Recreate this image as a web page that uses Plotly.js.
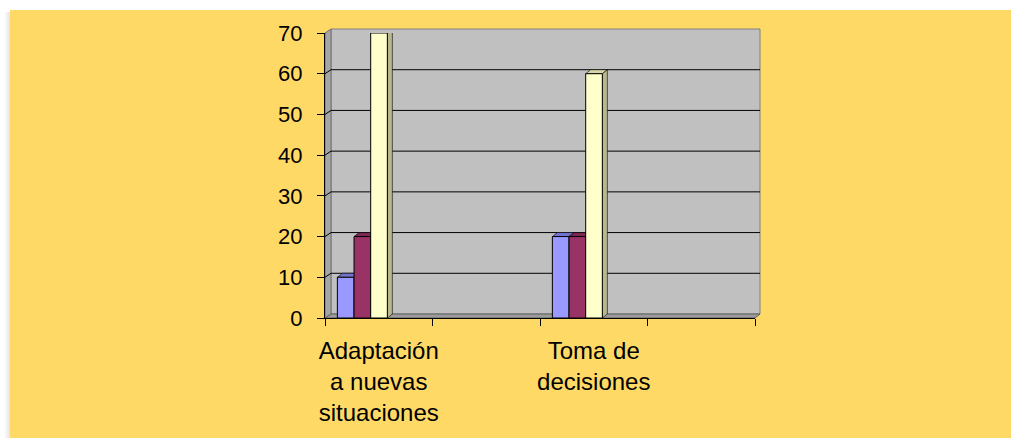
<!DOCTYPE html>
<html>
<head>
<meta charset="utf-8">
<script src="https://cdn.plot.ly/plotly-3.0.1.min.js"></script>
<style>
html,body{margin:0;padding:0;background:#ffffff;width:1011px;height:445px;overflow:hidden;}
#chart{position:absolute;left:10px;top:10px;width:1001px;height:428px;}
#shadow{position:absolute;left:4px;top:12px;width:6px;height:426px;background:linear-gradient(to right,#ffffff,#e4e4e4);}
</style>
</head>
<body>
<div id="shadow"></div>
<div id="chart"></div>
<script>
// ---- data ----
const categories = ['Adaptación<br>a nuevas<br>situaciones', ' ', 'Toma de<br>decisiones', '  '];
const serie1 = [10, null, 20, null];
const serie2 = [20, null, 20, null];
const serie3 = [70, null, 60, null];
const yTicks = [0, 10, 20, 30, 40, 50, 60, 70];

// ---- styling ----
const seriesList = [
  {name: 'Serie 1', y: serie1, color: '#9999FF', top: '#7373CC', side: '#6666B3', offset: -0.385},
  {name: 'Serie 2', y: serie2, color: '#993366', top: '#7A2952', side: '#66223F', offset: -0.23},
  {name: 'Serie 3', y: serie3, color: '#FFFFCC', top: '#D6D6A8', side: '#B8B890', offset: -0.075}
];
const barW = 0.155;

const W = 1001, H = 428;
const mL = 315, mR = 256, mT = 23, mB = 120;
const plotW = W - mL - mR;       // 430
const plotH = H - mT - mB;       // 285
const yMax = 70;
const pxX = plotW / categories.length;
const pxY = plotH / yMax;
const dX = 6, dY = 4;

const traces = seriesList.map(s => ({
  type: 'bar', name: s.name, x: categories, y: s.y,
  offset: s.offset, width: barW,
  marker: {color: s.color, line: {color: '#000000', width: 1}},
  hoverinfo: 'y'
}));

const shapes = [];
// back wall
shapes.push({type: 'path', xref: 'paper', yref: 'paper', xsizemode: 'pixel', ysizemode: 'pixel',
  xanchor: 0, yanchor: 0, layer: 'below',
  path: `M${dX},${dY} L${dX},${plotH + dY} L${plotW + 5},${plotH + dY} L${plotW + 5},${dY} Z`,
  fillcolor: '#C0C0C0', line: {color: '#808080', width: 1}});
// side wall
shapes.push({type: 'path', xref: 'paper', yref: 'paper', xsizemode: 'pixel', ysizemode: 'pixel',
  xanchor: 0, yanchor: 0, layer: 'below',
  path: `M0,0 L${dX},${dY} L${dX},${plotH + dY} L0,${plotH} Z`,
  fillcolor: '#A6A6A6', line: {color: '#707070', width: 1}});
// floor
shapes.push({type: 'path', xref: 'paper', yref: 'paper', xsizemode: 'pixel', ysizemode: 'pixel',
  xanchor: 0, yanchor: 0, layer: 'below',
  path: `M0,0 L${dX},${dY} L${plotW + 5},${dY} L${plotW},0 Z`,
  fillcolor: '#9C9C9C', line: {color: '#606060', width: 1}});
// gridlines on the back wall and side wall
yTicks.forEach(v => {
  if (v === 0) return;
  shapes.push({type: 'path', xref: 'paper', yref: 'y', xsizemode: 'pixel', ysizemode: 'pixel',
    xanchor: 0, yanchor: v, layer: 'below',
    path: `M0,0 L${dX},${dY} L${plotW + 5},${dY}`,
    line: {color: '#000000', width: 1}});
});
// 3D faces of the bars
seriesList.forEach((s, si) => {
  const w = barW * pxX;
  s.y.forEach((v, i) => {
    if (v === null) return;
    shapes.push({type: 'path', xref: 'x', yref: 'y', xsizemode: 'pixel', ysizemode: 'pixel',
      xanchor: i + s.offset, yanchor: v, layer: 'between',
      path: `M0,0 L${dX - 1},${dY} L${w + dX - 1},${dY} L${w},0 Z`,
      fillcolor: s.top, line: {color: '#000000', width: 0.6}});
    if (si === seriesList.length - 1) {
      const h = v * pxY;
      shapes.push({type: 'path', xref: 'x', yref: 'y', xsizemode: 'pixel', ysizemode: 'pixel',
        xanchor: i + s.offset, yanchor: v, layer: 'between',
        path: `M${w},0 L${w + dX - 1},${dY} L${w + dX - 1},${dY - h} L${w},${-h} Z`,
        fillcolor: s.side, line: {color: '#000000', width: 0.6}});
    }
  });
});

const layout = {
  width: W, height: H,
  margin: {l: mL, r: mR, t: mT, b: mB, pad: 0},
  paper_bgcolor: '#FFD966',
  plot_bgcolor: 'rgba(0,0,0,0)',
  showlegend: false,
  barmode: 'overlay',
  font: {family: 'Liberation Sans, Arial, sans-serif', color: '#000000'},
  xaxis: {
    type: 'category', categoryorder: 'array', categoryarray: categories,
    range: [-0.5, categories.length - 0.5],
    tickson: 'boundaries', ticks: 'outside', ticklen: 7, tickcolor: '#000000', tickwidth: 1,
    showline: true, linecolor: '#000000', linewidth: 1,
    showgrid: false, zeroline: false,
    tickfont: {size: 24, family: 'Liberation Sans, Arial, sans-serif', color: '#000000'},
    ticklabelstandoff: 11, tickangle: 0, automargin: false
  },
  yaxis: {
    range: [0, yMax], tickvals: yTicks, ticktext: yTicks.map(String),
    ticks: 'outside', ticklen: 7, tickcolor: '#000000', tickwidth: 1,
    showline: true, linecolor: '#000000', linewidth: 1,
    showgrid: false, zeroline: false,
    tickfont: {size: 22, family: 'Liberation Sans, Arial, sans-serif', color: '#000000'},
    ticklabelstandoff: 10, automargin: false
  },
  shapes: shapes
};

Plotly.newPlot('chart', traces, layout, {displayModeBar: false, staticPlot: true});
</script>
</body>
</html>
